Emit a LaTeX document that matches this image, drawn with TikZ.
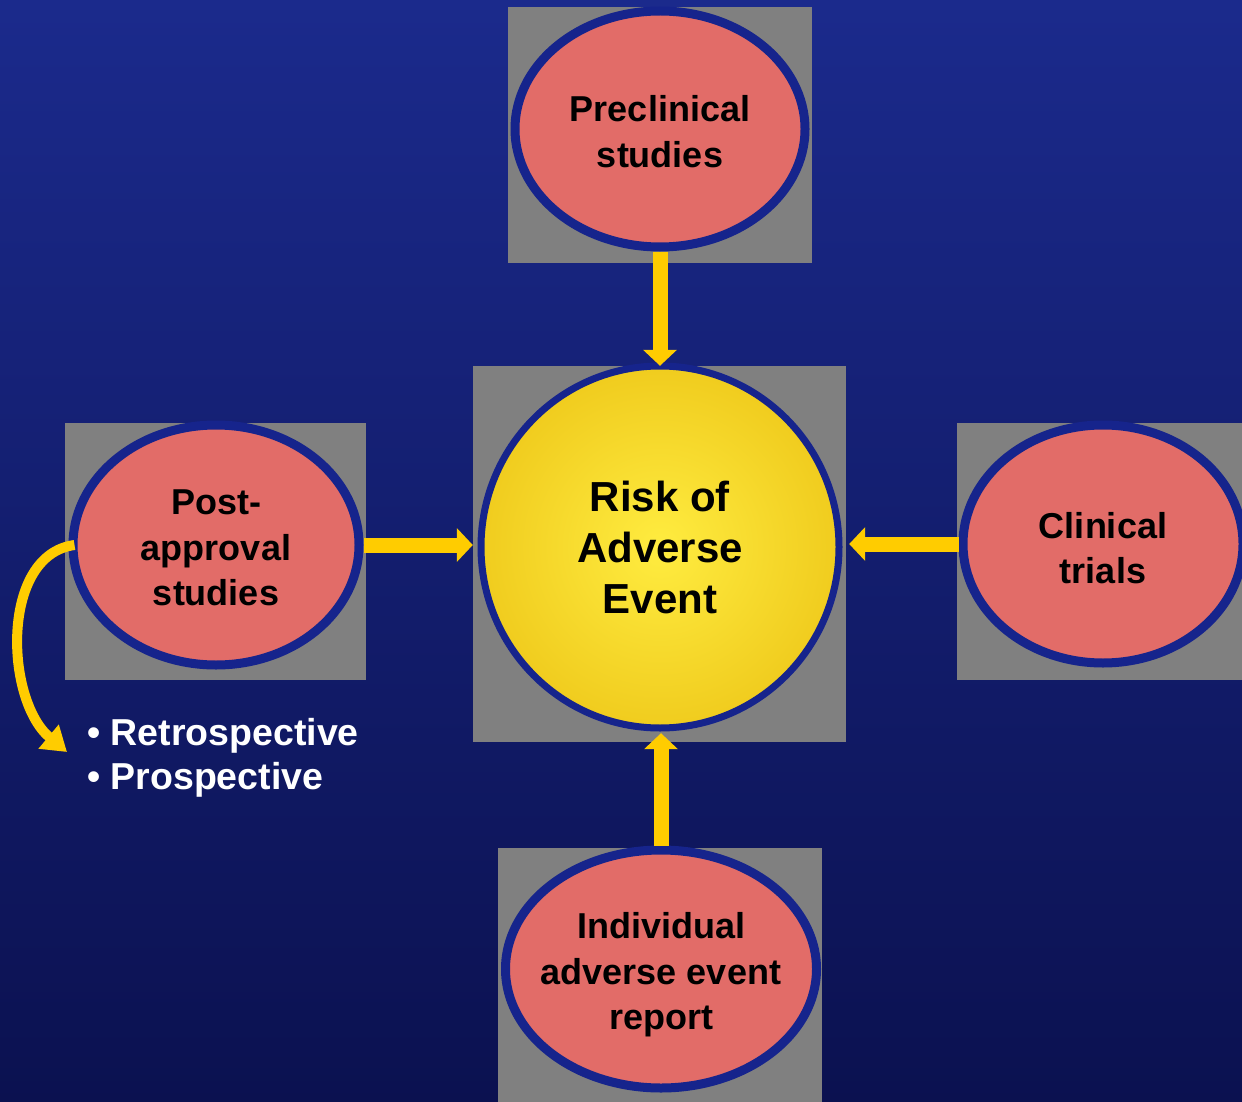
\documentclass[tikz,border=0pt]{standalone}
\usepackage{fontspec}
\setmainfont{Liberation Sans}
\usetikzlibrary{shapes.geometric,arrows.meta}
\definecolor{bgtop}{RGB}{27,42,140}
\definecolor{bgbot}{RGB}{11,17,80}
\definecolor{boxgray}{RGB}{128,128,128}
\definecolor{bubblered}{RGB}{226,108,104}
\definecolor{rim}{RGB}{22,36,140}
\definecolor{arrowyellow}{RGB}{255,204,0}
\definecolor{ballin}{RGB}{255,236,64}
\definecolor{ballout}{RGB}{240,204,30}
\tikzset{
  graybox/.style={rectangle, fill=boxgray, inner sep=0pt},
  bubble/.style={ellipse, fill=bubblered, draw=rim, line width=9pt, inner sep=0pt},
  bubbletext/.style={align=center, text=black, inner sep=0pt, font=\fontsize{36}{45.5}\selectfont\bfseries},
  ball/.style={ellipse, draw=rim, line width=7pt, inner sep=0pt, inner color=ballin, outer color=ballout},
  balltext/.style={align=center, text=black, inner sep=0pt, font=\fontsize{42}{51}\selectfont\bfseries},
  feed/.style={draw=arrowyellow, line width=15pt, -{Triangle[width=33pt,length=16pt]}},
  sidearrow/.style={draw=arrowyellow, line width=10pt, -{Triangle[width=30pt,length=24pt]}},
  listtext/.style={text=white, align=left, inner sep=0pt, anchor=west,
    font=\fontsize{37.5}{44}\selectfont\bfseries}
}
\begin{document}
\begin{tikzpicture}[x=1pt,y=-1pt]
\useasboundingbox (0,0) rectangle (1242,1102);
\clip (0,0) rectangle (1242,1102);
\fill[top color=bgtop, bottom color=bgbot] (0,0) rectangle (1242,1102);
% gray boxes
\node[graybox, minimum width=304pt, minimum height=256pt] (topbox) at (660,135) {};
\node[graybox, minimum width=373pt, minimum height=376pt] (cbox) at (659.5,554) {};
\node[graybox, minimum width=301pt, minimum height=257pt] (lbox) at (215.5,551.5) {};
\node[graybox, minimum width=303pt, minimum height=257pt] (rbox) at (1108.5,551.5) {};
\node[graybox, minimum width=324pt, minimum height=262pt] (bbox) at (660,979) {};
% bubbles
\node[bubble, minimum width=290pt, minimum height=236pt] (tnode) at (660,129) {};
\node[bubble, minimum width=286pt, minimum height=240pt] (lnode) at (216,545) {};
\node[bubble, minimum width=280pt, minimum height=238pt] (rnode) at (1103,544) {};
\node[bubble, minimum width=311pt, minimum height=238pt] (bnode) at (661,969) {};
\node[ball, minimum width=358pt, minimum height=362pt] (cnode) at (660,547) {};
% texts
\node[bubbletext] (ttext) at ([yshift=-2.5pt]tnode) {Preclinical\\studies};
\node[bubbletext] (ltext) at ([yshift=-3pt]lnode) {Post-\\approval\\studies};
\node[bubbletext] (rtext) at ([yshift=-4pt]rnode) {Clinical\\trials};
\node[bubbletext] (btext) at ([yshift=-6pt]bnode) {Individual\\adverse event\\report};
\node[balltext] (ctext) at ([yshift=0pt]cnode) {Risk of\\Adverse\\Event};
% arrows
\draw[feed] (tnode.south) -- (tnode.south |- cbox.north);
\draw[feed] (bnode.north) -- ([yshift=9pt]bnode.north |- cbox.south);
\draw[feed] (lnode.east) -- (lnode.east -| cbox.west);
\draw[feed, shorten >=3pt] (rnode.west) -- (rnode.west -| cbox.east);
% list
\node[listtext] (list) at (87,758) {\textbullet\ Retrospective\\\textbullet\ Prospective};
\coordinate (curveend) at (67,752);
\draw[sidearrow] ([xshift=6pt]lnode.west) .. controls (0,555) and (5,700) .. (curveend);
\end{tikzpicture}
\end{document}
